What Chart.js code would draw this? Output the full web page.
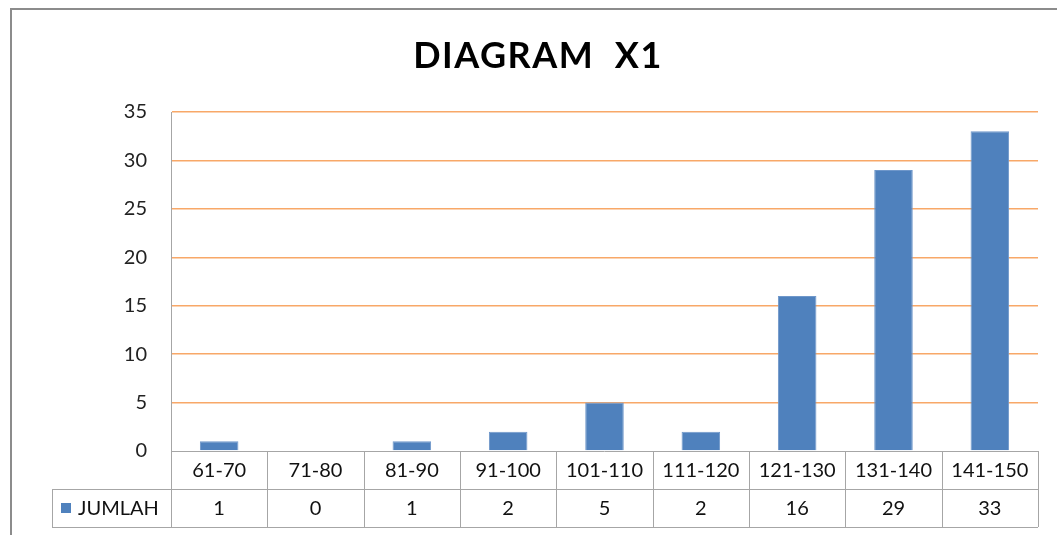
<!DOCTYPE html>
<html>
<head>
<meta charset="utf-8">
<script src="https://cdn.jsdelivr.net/npm/chart.js@4/dist/chart.umd.min.js"></script>
<style>
  html, body { margin: 0; padding: 0; background: #fff; }
  #wrap { width: 1057px; height: 535px; }
</style>
</head>
<body>
<div id="wrap"><canvas id="GraficoX1"></canvas></div>
<script>
const categorias = ['61-70', '71-80', '81-90', '91-100', '101-110', '111-120', '121-130', '131-140', '141-150'];
const jumlah = [1, 0, 1, 2, 5, 2, 16, 29, 33];
const yTicks = [0, 5, 10, 15, 20, 25, 30, 35];
const titulo = 'DIAGRAM  X1';

const fuente = 'Lato, "Liberation Sans", sans-serif';
const azul = '#4F81BD';
const gris = '#A6A6A6';

// marco gris, titulo + tabla de datos bajo el eje X
const tablaPlugin = {
    id: 'tabla',
    beforeDraw(chart) {
        const ctx = chart.ctx;
        ctx.save();
        ctx.fillStyle = '#fff';
        ctx.fillRect(0, 0, chart.width, chart.height);
        ctx.strokeStyle = '#8C8C8C';
        ctx.lineWidth = 2;
        ctx.strokeRect(11, 9, chart.width + 20, chart.height + 20);

        ctx.fillStyle = '#000';
        ctx.font = 'bold 36px ' + fuente;
        ctx.letterSpacing = '1.5px';
        ctx.textAlign = 'center';
        ctx.textBaseline = 'middle';
        ctx.fillText(titulo, 538, 56);
        ctx.restore();
    },
    afterDraw(chart) {
        const ctx = chart.ctx;
        const area = chart.chartArea;
        const x = chart.scales.x;
        const n = categorias.length;
        const w = (area.right - area.left) / n;
        const r0 = area.bottom, r1 = r0 + 38, r2 = r1 + 38;
        const leyendaX = 52;

        ctx.save();
        ctx.strokeStyle = gris;
        ctx.lineWidth = 1;
        ctx.beginPath();
        // lineas horizontales
        ctx.moveTo(area.left, r0 + 0.5); ctx.lineTo(area.right, r0 + 0.5);
        ctx.moveTo(leyendaX, r1 + 0.5); ctx.lineTo(area.right, r1 + 0.5);
        ctx.moveTo(leyendaX, r2 + 0.5); ctx.lineTo(area.right, r2 + 0.5);
        // lineas verticales
        for (let i = 0; i <= n; i++) {
            const px = Math.round(area.left + i * w) + 0.5;
            ctx.moveTo(px, r0); ctx.lineTo(px, r2);
        }
        ctx.moveTo(leyendaX + 0.5, r1); ctx.lineTo(leyendaX + 0.5, r2);
        ctx.stroke();

        ctx.fillStyle = '#111';
        ctx.font = '20px ' + fuente;
        ctx.textAlign = 'center';
        ctx.textBaseline = 'middle';
        categorias.forEach((c, i) => {
            const cx = x.getPixelForValue(i);
            ctx.fillText(c, cx, (r0 + r1) / 2 + 1);
            ctx.fillText(String(jumlah[i]), cx, (r1 + r2) / 2 + 1);
        });

        // leyenda
        ctx.fillStyle = azul;
        ctx.fillRect(61, r1 + 14, 10, 10);
        ctx.fillStyle = '#111';
        ctx.textAlign = 'left';
        ctx.fillText('JUMLAH', 78, (r1 + r2) / 2 + 1);
        ctx.restore();
    }
};

const data = {
    labels: categorias,
    datasets: [
        {
            label: 'JUMLAH',
            data: jumlah,
            backgroundColor: azul,
            borderColor: '#6F97CA',
            borderWidth: 1,
            categoryPercentage: 1,
            barPercentage: 0.4
        }
    ]
};

const config = {
    type: 'bar',
    data: data,
    plugins: [tablaPlugin],
    options: {
        responsive: true,
        maintainAspectRatio: false,
        animation: false,
        layout: {
            padding: { left: 0, right: 19, top: 112, bottom: 8 }
        },
        plugins: {
            legend: { display: false },
            tooltip: { enabled: false },
            title: { display: false }
        },
        scales: {
            x: {
                ticks: { display: false },
                grid: { display: false },
                border: { display: false },
                afterFit(scale) { scale.height = 76; }
            },
            y: {
                min: 0,
                max: 35,
                afterBuildTicks(scale) { scale.ticks = yTicks.map(v => ({ value: v })); },
                afterFit(scale) { scale.width = 171; },
                ticks: {
                    color: '#222',
                    font: { family: fuente, size: 20 },
                    padding: 24
                },
                grid: {
                    drawTicks: false,
                    color: (c) => c.tick && c.tick.value === 0 ? 'rgba(0,0,0,0)' : '#F8A868',
                    lineWidth: 1.5
                },
                border: { display: true, color: gris, width: 1 }
            }
        }
    }
};

const myChart = new Chart(document.getElementById('GraficoX1'), config);
</script>
</body>
</html>
